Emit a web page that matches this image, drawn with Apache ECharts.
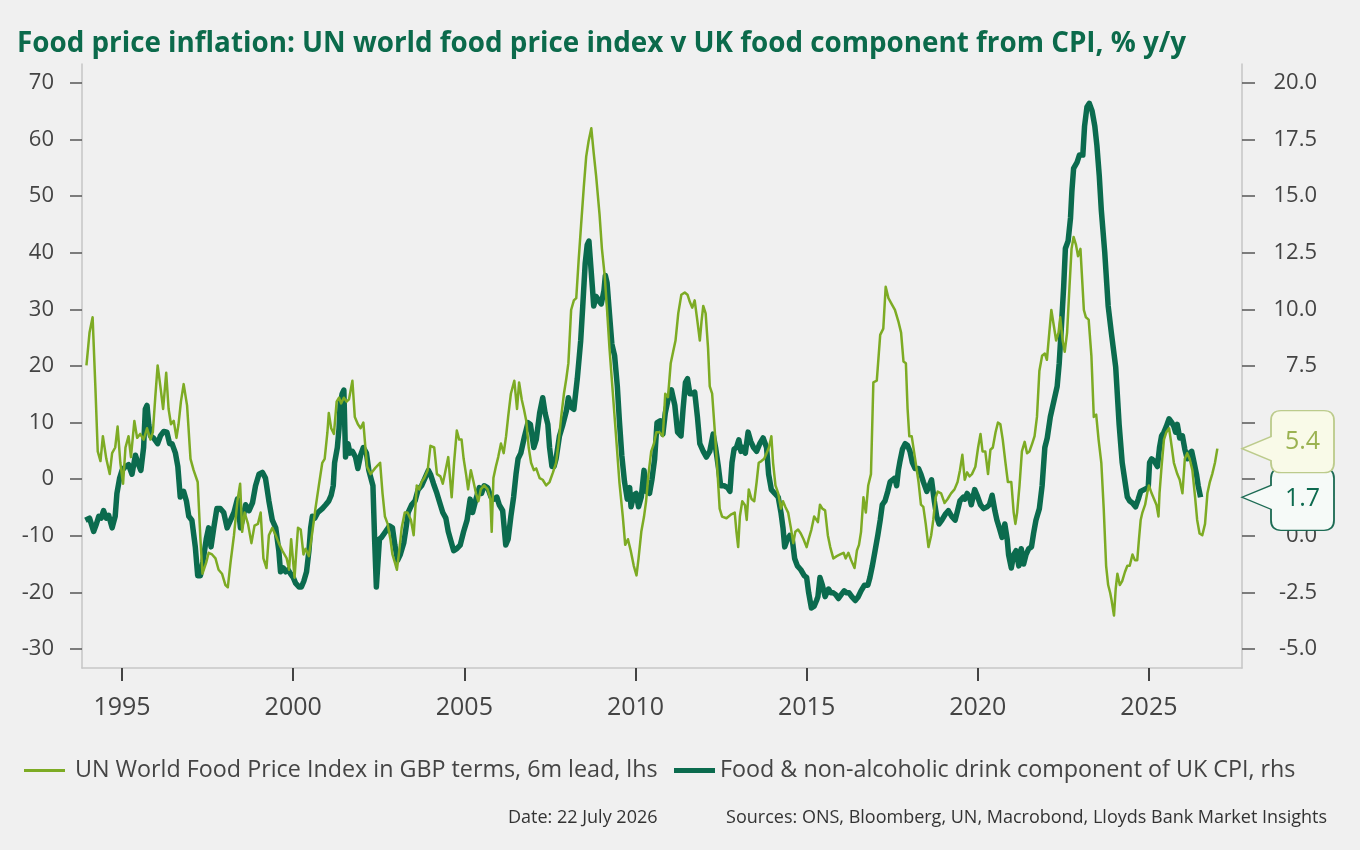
<!DOCTYPE html>
<html>
<head>
<meta charset="utf-8">
<script src="https://cdn.jsdelivr.net/npm/echarts@6/dist/echarts.min.js"></script>
<style>
html,body{margin:0;padding:0;background:#f0f0f0;}
#chart{width:1360px;height:850px;}
</style>
</head>
<body>
<div id="chart"></div>
<script>
// ---- Data ----
const titleText = 'Food price inflation: UN world food price index v UK food component from CPI, % y/y';
const unName = 'UN World Food Price Index in GBP terms, 6m lead, lhs';
const ukName = 'Food & non-alcoholic drink component of UK CPI, rhs';
const dateText = 'Date: 22 July 2026';
const sourceText = 'Sources: ONS, Bloomberg, UN, Macrobond, Lloyds Bank Market Insights';

const xTickYears = [1995, 2000, 2005, 2010, 2015, 2020, 2025];
const leftTicks = [-30, -20, -10, 0, 10, 20, 30, 40, 50, 60, 70];
const rightTicks = [-5, -2.5, 0, 2.5, 5, 7.5, 10, 12.5, 15, 17.5, 20];

// UN World Food Price Index (GBP, 6m lead), lhs: [year, % y/y]
const unFood = [
[1993.96,20.1],[1994.05,25.9],[1994.14,28.6],[1994.22,16.4],[1994.29,4.9],[1994.37,3.2],[1994.44,7.6],[1994.54,3.6],[1994.64,0.9],[1994.71,4.6],[1994.80,5.6],[1994.87,9.3],[1994.95,2.9],
[1995.03,-0.8],[1995.10,5.6],[1995.19,7.6],[1995.26,3.9],[1995.36,10.3],[1995.44,7.3],[1995.53,8.0],[1995.63,7.0],[1995.73,9.0],[1995.83,7.0],[1995.90,8.3],[1995.97,14.4],
[1996.04,20.1],[1996.12,16.4],[1996.20,12.4],[1996.29,18.8],[1996.36,12.4],[1996.43,9.7],[1996.51,10.3],[1996.59,7.3],[1996.65,9.7],[1996.72,13.7],[1996.80,16.8],[1996.90,13.0],
[1997.00,3.6],[1997.09,1.6],[1997.21,-0.5],[1997.29,-10.6],[1997.35,-16.7],[1997.40,-17.0],[1997.46,-14.7],[1997.53,-13.0],[1997.63,-13.3],[1997.73,-14.0],[1997.82,-16.0],[1997.92,-16.7],
[1998.02,-18.7],[1998.09,-19.1],[1998.17,-14.7],[1998.27,-9.9],[1998.37,-3.9],[1998.45,-0.8],[1998.51,-9.3],[1998.58,-5.9],[1998.68,-7.9],[1998.78,-11.3],[1998.87,-8.2],[1998.97,-7.9],
[1999.05,-5.9],[1999.13,-14.0],[1999.22,-15.7],[1999.29,-9.9],[1999.39,-8.6],[1999.49,-9.9],[1999.58,-11.3],[1999.68,-12.6],[1999.81,-14.0],[1999.88,-16.0],[1999.94,-10.6],[1999.99,-14.0],
[2000.04,-17.4],[2000.10,-12.0],[2000.14,-8.6],[2000.22,-8.9],[2000.30,-13.3],[2000.36,-12.3],[2000.46,-13.6],[2000.56,-9.3],[2000.65,-5.2],[2000.75,-1.1],[2000.85,2.9],[2000.92,3.6],
[2001.00,8.3],[2001.04,11.7],[2001.11,9.0],[2001.19,8.0],[2001.27,13.7],[2001.34,14.4],[2001.40,13.4],[2001.48,14.4],[2001.56,13.7],[2001.63,14.1],[2001.73,17.4],[2001.80,11.0],[2001.89,9.7],[2001.97,9.0],
[2002.05,10.0],[2002.11,5.6],[2002.16,2.2],[2002.26,0.9],[2002.40,2.0],[2002.54,2.9],[2002.61,-2.5],[2002.68,-6.6],[2002.76,-7.9],[2002.84,-10.6],[2002.90,-13.3],[2002.97,-14.7],
[2003.03,-16.0],[2003.10,-12.6],[2003.17,-8.6],[2003.26,-5.9],[2003.34,-5.9],[2003.44,-7.2],[2003.52,-9.9],[2003.56,-9.9],[2003.61,-1.1],[2003.68,-1.8],[2003.75,-0.5],[2003.83,0.2],[2003.93,1.6],
[2004.01,5.9],[2004.04,5.9],[2004.12,5.6],[2004.20,0.9],[2004.30,0.5],[2004.37,-0.8],[2004.43,0.9],[2004.53,3.9],[2004.63,-3.2],[2004.70,2.9],[2004.78,8.6],[2004.85,7.0],[2004.92,7.0],[2004.98,3.6],
[2005.05,0.9],[2005.11,-1.8],[2005.19,1.6],[2005.27,-0.5],[2005.34,-2.5],[2005.41,-3.9],[2005.48,-1.8],[2005.58,-1.1],[2005.68,-1.8],[2005.76,-3.5],[2005.80,-9.3],[2005.85,0.2],[2005.92,2.2],[2005.99,3.9],
[2006.07,6.3],[2006.15,4.6],[2006.22,7.6],[2006.28,11.0],[2006.36,15.1],[2006.46,17.4],[2006.54,12.4],[2006.60,17.1],[2006.68,14.0],[2006.74,12.4],[2006.81,10.3],[2006.88,5.6],[2006.95,2.9],
[2007.03,1.6],[2007.10,1.9],[2007.20,0.2],[2007.29,-0.1],[2007.39,-1.1],[2007.49,-0.5],[2007.59,1.2],[2007.68,2.9],[2007.75,6.3],[2007.83,11.0],[2007.91,15.1],[2007.98,17.8],
[2008.04,20.5],[2008.12,29.9],[2008.20,31.6],[2008.27,32.0],[2008.34,38.7],[2008.41,44.8],[2008.49,51.6],[2008.56,57.0],[2008.63,59.7],[2008.71,62.0],[2008.78,57.6],[2008.85,53.6],[2008.95,46.8],
[2009.02,40.7],[2009.10,36.0],[2009.17,29.9],[2009.24,23.2],[2009.34,15.1],[2009.44,7.0],[2009.53,-0.5],[2009.63,-6.6],[2009.70,-11.6],[2009.78,-10.6],[2009.86,-12.6],[2009.95,-15.3],
[2010.03,-17.0],[2010.09,-14.0],[2010.17,-9.3],[2010.25,-6.6],[2010.31,-3.9],[2010.38,0.9],[2010.46,4.9],[2010.54,6.3],[2010.61,8.3],[2010.70,8.3],[2010.80,7.6],[2010.87,15.1],[2010.95,14.5],
[2011.03,20.5],[2011.10,22.5],[2011.17,24.5],[2011.25,29.3],[2011.34,32.6],[2011.44,33.0],[2011.52,32.6],[2011.59,31.3],[2011.66,30.3],[2011.73,31.6],[2011.81,27.9],[2011.88,24.5],[2011.93,27.9],[2011.98,30.6],
[2012.05,29.3],[2012.12,23.2],[2012.17,16.4],[2012.24,15.1],[2012.32,8.3],[2012.40,0.9],[2012.46,-5.2],[2012.53,-6.6],[2012.66,-6.9],[2012.80,-6.2],[2012.90,-5.9],[2012.95,-9.3],
[2013.00,-12.0],[2013.05,-6.6],[2013.12,-3.9],[2013.20,-4.6],[2013.25,-7.2],[2013.31,-1.8],[2013.39,-3.5],[2013.47,-3.9],[2013.54,-0.5],[2013.60,2.9],[2013.68,3.2],[2013.76,3.6],[2013.83,4.6],[2013.90,5.6],[2013.97,7.6],
[2014.02,2.9],[2014.09,-1.1],[2014.17,-2.5],[2014.25,-5.2],[2014.31,-3.9],[2014.38,-4.9],[2014.46,-5.9],[2014.54,-8.6],[2014.61,-11.3],[2014.67,-9.3],[2014.75,-8.9],[2014.83,-9.6],[2014.91,-10.6],
[2015.00,-12.0],[2015.06,-10.6],[2015.14,-8.9],[2015.22,-6.6],[2015.29,-7.2],[2015.33,-7.6],[2015.39,-4.5],[2015.46,-5.2],[2015.54,-5.5],[2015.62,-9.9],[2015.69,-12.0],[2015.78,-14.0],[2015.88,-13.6],[2015.98,-13.3],
[2016.08,-13.0],[2016.14,-14.0],[2016.22,-13.0],[2016.30,-14.3],[2016.40,-15.7],[2016.47,-12.6],[2016.53,-11.6],[2016.59,-9.3],[2016.66,-3.2],[2016.73,-5.9],[2016.80,-1.1],[2016.88,0.9],[2016.95,17.1],
[2017.05,17.4],[2017.15,25.5],[2017.24,26.6],[2017.31,34.0],[2017.39,32.0],[2017.49,30.9],[2017.58,29.9],[2017.68,27.9],[2017.76,25.9],[2017.83,20.8],[2017.90,20.5],[2017.95,12.4],
[2018.00,7.6],[2018.07,7.6],[2018.17,3.6],[2018.27,-0.5],[2018.34,-4.5],[2018.41,-4.9],[2018.48,-7.9],[2018.56,-12.0],[2018.64,-9.9],[2018.70,-7.2],[2018.77,-3.2],[2018.83,-2.2],[2018.93,-2.5],
[2019.03,-4.2],[2019.12,-3.5],[2019.22,-2.5],[2019.32,-1.8],[2019.41,-0.5],[2019.48,1.6],[2019.55,4.3],[2019.62,-0.1],[2019.69,1.2],[2019.76,0.5],[2019.83,0.9],[2019.93,2.2],
[2020.01,5.6],[2020.08,8.0],[2020.14,4.9],[2020.22,4.9],[2020.30,0.9],[2020.37,5.2],[2020.44,5.6],[2020.52,8.3],[2020.59,10.0],[2020.66,9.7],[2020.73,7.0],[2020.81,2.9],[2020.88,-0.5],[2020.98,-0.5],
[2021.05,-5.9],[2021.10,-7.9],[2021.15,-5.9],[2021.22,-1.1],[2021.29,4.9],[2021.37,6.6],[2021.44,4.6],[2021.51,4.9],[2021.59,6.3],[2021.66,7.6],[2021.73,11.0],[2021.80,19.1],[2021.88,21.8],[2021.96,22.2],
[2022.02,21.1],[2022.09,25.9],[2022.15,29.9],[2022.22,27.2],[2022.29,24.5],[2022.36,25.9],[2022.41,28.6],[2022.48,24.5],[2022.54,22.5],[2022.61,25.9],[2022.68,34.0],[2022.74,40.7],[2022.80,42.8],[2022.87,41.4],[2022.93,39.4],
[2023.00,40.7],[2023.05,35.3],[2023.10,29.9],[2023.16,28.6],[2023.24,28.2],[2023.32,21.8],[2023.39,11.0],[2023.46,11.4],[2023.53,7.0],[2023.61,2.9],[2023.68,-5.2],[2023.75,-15.3],[2023.81,-18.7],[2023.87,-20.1],[2023.91,-21.4],[2023.98,-24.1],
[2024.03,-19.4],[2024.08,-16.7],[2024.15,-18.7],[2024.22,-18.0],[2024.30,-16.4],[2024.37,-15.3],[2024.44,-15.3],[2024.52,-13.3],[2024.59,-14.3],[2024.66,-14.3],[2024.71,-10.6],[2024.76,-7.2],[2024.81,-5.9],[2024.89,-4.5],[2024.95,-2.5],
[2025.00,-1.1],[2025.08,-2.5],[2025.15,-3.5],[2025.22,-4.5],[2025.28,-6.6],[2025.31,-2.5],[2025.37,2.2],[2025.44,7.0],[2025.51,8.3],[2025.59,9.0],[2025.67,5.6],[2025.73,2.9],[2025.83,0.9],[2025.90,-0.1],[2025.98,-2.5],
[2026.05,3.6],[2026.12,4.6],[2026.19,3.6],[2026.27,1.6],[2026.35,-3.2],[2026.41,-7.2],[2026.48,-9.6],[2026.56,-9.9],[2026.64,-7.9],[2026.71,-2.5],[2026.78,-0.5],[2026.85,0.9],[2026.93,2.9],[2027.00,5.4]
];

// UK CPI food & non-alcoholic drink, rhs: [year, % y/y]
const ukFood = [
[1993.93,0.69],[1994.05,0.78],[1994.17,0.19],[1994.25,0.52],[1994.32,0.86],[1994.39,0.78],[1994.46,1.11],[1994.54,0.78],[1994.61,0.90],[1994.71,0.35],[1994.80,0.86],[1994.85,1.87],[1994.93,2.55],
[1995.00,2.89],[1995.10,3.06],[1995.19,3.14],[1995.29,2.72],[1995.39,3.56],[1995.46,3.23],[1995.55,2.89],[1995.63,3.90],[1995.68,5.59],[1995.73,5.76],[1995.78,4.92],[1995.83,4.41],[1995.92,4.32],
[1996.04,4.07],[1996.12,4.41],[1996.22,4.61],[1996.31,4.58],[1996.39,4.07],[1996.46,4.07],[1996.56,3.65],[1996.63,3.06],[1996.70,1.71],[1996.80,1.96],[1996.88,1.54],[1996.95,0.86],
[1997.04,0.69],[1997.14,-0.49],[1997.21,-1.76],[1997.29,-1.76],[1997.36,-1.17],[1997.46,-0.15],[1997.53,0.35],[1997.60,-0.49],[1997.68,0.35],[1997.77,1.20],[1997.87,1.20],[1997.97,1.03],
[1998.07,0.35],[1998.17,0.69],[1998.27,1.03],[1998.37,1.62],[1998.46,0.35],[1998.54,0.86],[1998.61,1.37],[1998.71,1.11],[1998.81,1.45],[1998.90,2.21],
[1999.00,2.72],[1999.10,2.80],[1999.19,2.55],[1999.29,1.54],[1999.39,0.69],[1999.49,0.35],[1999.58,-0.66],[1999.63,-1.59],[1999.71,-1.42],[1999.78,-1.59],[1999.85,-1.50],[1999.92,-1.67],
[2000.00,-1.84],[2000.07,-2.09],[2000.17,-2.26],[2000.24,-2.26],[2000.31,-2.01],[2000.39,-1.59],[2000.46,-0.66],[2000.51,0.35],[2000.56,0.86],[2000.63,0.78],[2000.72,1.03],[2000.85,1.20],[2000.95,1.37],
[2001.04,1.54],[2001.11,1.79],[2001.17,2.21],[2001.21,3.23],[2001.29,3.90],[2001.34,4.75],[2001.37,5.76],[2001.43,6.27],[2001.48,6.44],[2001.53,3.48],[2001.60,4.07],[2001.66,3.65],[2001.73,3.73],[2001.82,3.48],[2001.89,2.97],[2001.97,3.56],
[2002.05,3.90],[2002.14,3.65],[2002.21,2.89],[2002.33,2.21],[2002.38,-0.20],[2002.43,-2.26],[2002.52,-0.15],[2002.58,-0.07],[2002.66,0.10],[2002.74,0.27],[2002.81,0.44],[2002.90,0.35],[2002.97,-0.41],
[2003.05,-1.08],[2003.13,-0.83],[2003.23,-0.32],[2003.29,0.27],[2003.36,1.03],[2003.46,1.37],[2003.56,1.54],[2003.65,2.04],[2003.75,2.21],[2003.85,2.55],[2003.95,2.89],
[2004.01,2.72],[2004.10,2.30],[2004.20,1.87],[2004.30,1.37],[2004.37,1.03],[2004.46,0.78],[2004.53,0.19],[2004.61,-0.24],[2004.69,-0.66],[2004.78,-0.57],[2004.88,-0.41],[2004.98,0.19],
[2005.08,0.69],[2005.17,1.62],[2005.24,1.03],[2005.34,1.62],[2005.44,2.13],[2005.50,1.87],[2005.58,2.21],[2005.68,2.13],[2005.78,1.71],[2005.87,1.62],[2005.95,1.71],
[2006.02,1.37],[2006.12,1.11],[2006.21,-0.41],[2006.28,-0.15],[2006.36,0.86],[2006.44,1.71],[2006.51,2.72],[2006.57,3.40],[2006.65,3.65],[2006.76,4.40],[2006.86,5.00],[2006.93,4.92],
[2007.03,3.90],[2007.10,4.24],[2007.20,5.42],[2007.29,6.10],[2007.36,5.42],[2007.44,4.92],[2007.49,3.90],[2007.56,3.06],[2007.62,3.06],[2007.68,3.40],[2007.78,4.41],[2007.88,4.92],[2007.98,5.51],
[2008.04,6.10],[2008.12,5.68],[2008.20,5.59],[2008.30,6.94],[2008.40,8.63],[2008.46,10.15],[2008.53,12.01],[2008.59,12.85],[2008.64,13.02],[2008.69,12.01],[2008.74,11.00],[2008.78,10.15],[2008.85,10.57],[2008.92,10.41],
[2009.00,10.24],[2009.08,10.83],[2009.12,11.50],[2009.17,11.17],[2009.24,9.81],[2009.31,8.47],[2009.39,7.96],[2009.47,6.60],[2009.53,5.08],[2009.60,3.56],[2009.68,2.38],[2009.76,1.62],[2009.83,2.13],[2009.87,1.28],[2009.95,1.79],
[2010.02,1.87],[2010.09,1.28],[2010.17,1.71],[2010.25,2.89],[2010.31,1.96],[2010.41,1.87],[2010.48,2.47],[2010.56,3.40],[2010.63,5.00],[2010.73,5.08],[2010.80,4.49],[2010.87,5.42],[2010.95,6.01],
[2011.05,6.45],[2011.15,5.76],[2011.23,4.58],[2011.33,4.41],[2011.39,5.59],[2011.46,6.77],[2011.52,6.94],[2011.59,6.27],[2011.66,6.27],[2011.73,6.35],[2011.81,5.25],[2011.88,4.07],[2011.98,3.73],
[2012.07,3.48],[2012.17,3.73],[2012.27,4.49],[2012.34,3.90],[2012.42,3.06],[2012.49,2.21],[2012.59,2.21],[2012.69,2.13],[2012.76,1.96],[2012.82,3.23],[2012.88,3.82],[2012.95,3.90],
[2013.02,4.24],[2013.08,3.73],[2013.14,3.90],[2013.21,3.65],[2013.29,4.58],[2013.37,4.16],[2013.45,3.90],[2013.54,3.73],[2013.63,4.07],[2013.73,4.32],[2013.83,3.90],[2013.89,2.72],[2013.97,2.04],
[2014.07,1.87],[2014.17,1.71],[2014.25,1.03],[2014.31,0.35],[2014.36,-0.49],[2014.44,-0.15],[2014.51,0.02],[2014.58,-0.15],[2014.65,-1.00],[2014.73,-1.33],[2014.83,-1.50],[2014.93,-1.76],
[2015.00,-1.84],[2015.06,-2.52],[2015.14,-3.19],[2015.22,-3.11],[2015.29,-2.86],[2015.33,-2.69],[2015.39,-1.84],[2015.46,-2.18],[2015.54,-2.69],[2015.64,-2.35],[2015.71,-2.52],[2015.78,-2.52],[2015.85,-2.60],[2015.93,-2.77],
[2016.01,-2.60],[2016.10,-2.43],[2016.17,-2.52],[2016.24,-2.52],[2016.32,-2.69],[2016.42,-2.86],[2016.51,-2.69],[2016.59,-2.43],[2016.69,-2.18],[2016.79,-2.18],[2016.85,-1.84],[2016.92,-1.33],
[2017.00,-0.66],[2017.08,0.02],[2017.15,0.69],[2017.21,1.37],[2017.29,1.54],[2017.37,1.96],[2017.44,2.38],[2017.51,2.47],[2017.58,2.55],[2017.63,2.21],[2017.68,2.89],[2017.73,3.31],[2017.80,3.82],[2017.88,4.07],[2017.95,3.99],
[2018.02,3.73],[2018.09,3.23],[2018.17,2.97],[2018.27,2.97],[2018.34,2.72],[2018.41,2.38],[2018.51,1.96],[2018.58,2.21],[2018.65,2.47],[2018.73,1.54],[2018.80,0.86],[2018.87,0.52],[2018.95,0.69],
[2019.05,0.95],[2019.14,1.11],[2019.24,0.86],[2019.34,0.69],[2019.41,1.11],[2019.48,1.54],[2019.58,1.71],[2019.62,1.62],[2019.69,1.87],[2019.76,1.71],[2019.81,1.37],[2019.91,2.04],[2019.98,1.79],
[2020.08,1.37],[2020.17,1.20],[2020.27,1.28],[2020.34,1.37],[2020.42,1.79],[2020.50,1.11],[2020.56,0.69],[2020.63,0.35],[2020.71,-0.07],[2020.79,0.52],[2020.86,-0.15],[2020.90,-0.83],[2020.98,-1.42],
[2021.05,-0.83],[2021.12,-0.66],[2021.20,-1.33],[2021.27,-0.57],[2021.34,-1.25],[2021.41,-0.83],[2021.49,-0.57],[2021.57,-0.49],[2021.63,0.10],[2021.70,0.69],[2021.80,1.20],[2021.88,2.21],[2021.96,3.90],
[2022.03,4.32],[2022.12,5.25],[2022.22,5.93],[2022.32,6.60],[2022.38,7.62],[2022.44,9.14],[2022.51,11.00],[2022.56,12.69],[2022.64,13.02],[2022.71,14.04],[2022.75,15.22],[2022.80,16.23],[2022.90,16.49],[2022.97,16.82],
[2023.07,16.82],[2023.12,18.09],[2023.19,18.94],[2023.26,19.10],[2023.34,18.77],[2023.42,18.09],[2023.48,17.25],[2023.55,15.90],[2023.61,14.38],[2023.71,12.52],[2023.81,10.15],[2023.90,9.00],
[2024.03,7.45],[2024.13,4.92],[2024.22,3.23],[2024.32,2.21],[2024.37,1.71],[2024.44,1.54],[2024.52,1.45],[2024.61,1.28],[2024.69,1.62],[2024.76,1.96],[2024.86,2.04],[2024.98,2.13],
[2025.02,3.23],[2025.08,3.40],[2025.15,3.31],[2025.25,3.06],[2025.31,3.90],[2025.37,4.41],[2025.44,4.58],[2025.51,4.83],[2025.59,5.17],[2025.67,5.00],[2025.73,4.83],[2025.78,4.58],[2025.83,4.92],[2025.90,4.32],[2025.98,4.41],
[2026.05,3.82],[2026.12,3.40],[2026.19,3.65],[2026.25,3.73],[2026.32,3.23],[2026.39,2.72],[2026.44,2.21],[2026.51,1.70]
];

const unLatest = 5.4;
const ukLatest = 1.7;

// ---- Axis ranges (rhs = lhs/4 + 2.5) ----
const xMin = 1993.83, xMax = 2027.72;
const lMin = -33.36, lMax = 73.36;
const rMin = lMin / 4 + 2.5, rMax = lMax / 4 + 2.5;

const C_LIGHT = '#7dab24';
const C_DARK = '#0b6b4e';
const FONT = '"Open Sans", "Noto Sans", sans-serif';

function calloutPath(tipY) {
  // bbox 0..92 x 0..62; tip at (0, tipY); box from x=29
  const a = Math.max(tipY - 12, 10), b = Math.min(tipY + 12, 52);
  return 'path://M0 ' + tipY + ' L29 ' + a + ' L29 10 Q29 0 39 0 L82 0 Q92 0 92 10 L92 52 Q92 62 82 62 L39 62 Q29 62 29 52 L29 ' + b + ' Z';
}

const chart = echarts.init(document.getElementById('chart'), null, { renderer: 'canvas' });
chart.setOption({
  backgroundColor: '#f0f0f0',
  animation: false,
  textStyle: { fontFamily: FONT },
  title: {
    text: titleText, left: 12, top: 25,
    textStyle: { fontFamily: FONT, fontWeight: 'bold', fontSize: 27.8, color: '#0b6a4b' }
  },
  grid: { left: 82, right: 118, top: 64, bottom: 182 },
  legend: [
    { data: [{ name: unName, icon: 'rect' }], left: 19, top: 754, itemWidth: 41, itemHeight: 3,
      textStyle: { fontSize: 23.3, color: '#444', fontFamily: FONT, padding: [0, 0, 0, 5] } },
    { data: [{ name: ukName, icon: 'rect' }], left: 669, top: 754, itemWidth: 41, itemHeight: 5,
      textStyle: { fontSize: 23.3, color: '#444', fontFamily: FONT } }
  ],
  xAxis: {
    type: 'value', min: xMin, max: xMax,
    axisLine: { show: true, onZero: false, lineStyle: { color: '#c6c6c6', width: 1.5 } },
    axisTick: { show: true, customValues: xTickYears, length: 13, lineStyle: { color: '#444', width: 2 } },
    axisLabel: { customValues: xTickYears, fontSize: 25, color: '#444', margin: 27, formatter: v => String(v) },
    splitLine: { show: false }
  },
  yAxis: [
    { type: 'value', position: 'left', min: lMin, max: lMax,
      axisLine: { show: true, onZero: false, lineStyle: { color: '#c6c6c6', width: 1.5 } },
      axisTick: { show: true, customValues: leftTicks, length: 12, lineStyle: { color: '#555', width: 1.5 } },
      axisLabel: { customValues: leftTicks, fontSize: 22, color: '#444', margin: 28, formatter: v => String(v) },
      splitLine: { show: false } },
    { type: 'value', position: 'right', min: rMin, max: rMax,
      axisLine: { show: true, onZero: false, lineStyle: { color: '#c6c6c6', width: 1.5 } },
      axisTick: { show: true, customValues: rightTicks, length: 13, lineStyle: { color: '#555', width: 1.5 } },
      axisLabel: { customValues: rightTicks, fontSize: 22, color: '#444', margin: 75, align: 'right', formatter: v => v.toFixed(1) },
      splitLine: { show: false } }
  ],
  series: [
    { name: ukName, type: 'line', yAxisIndex: 1, data: ukFood, showSymbol: false, symbol: 'none', clip: false,
      lineStyle: { color: C_DARK, width: 5.5, join: 'round' }, itemStyle: { color: C_DARK }, z: 2,
      markPoint: { silent: true, data: [{ coord: [xMax, ukLatest], symbol: calloutPath(29), symbolSize: [92, 62], symbolOffset: [46, 2],
        itemStyle: { color: '#f6faf8', borderColor: '#1d6b54', borderWidth: 1.5 },
        label: { show: true, position: 'inside', offset: [14.5, 0], formatter: String(ukLatest), fontSize: 25, color: '#0d6a4f', fontFamily: FONT } }] } },
    { name: unName, type: 'line', yAxisIndex: 0, data: unFood, showSymbol: false, symbol: 'none', clip: false,
      lineStyle: { color: C_LIGHT, width: 2.5, join: 'round' }, itemStyle: { color: C_LIGHT }, z: 3,
      markPoint: { silent: true, data: [{ coord: [xMax, unLatest], symbol: calloutPath(38), symbolSize: [92, 62], symbolOffset: [46, -7],
        itemStyle: { color: '#f9fae8', borderColor: '#bccb8c', borderWidth: 1.5 },
        label: { show: true, position: 'inside', offset: [14.5, 0], formatter: String(unLatest), fontSize: 25, color: '#9bb251', fontFamily: FONT } }] } }
  ],
  graphic: [
    { type: 'text', left: 508, top: 809, style: { text: dateText, fontSize: 18, fill: '#333', fontFamily: FONT } },
    { type: 'text', right: 33, top: 809, style: { text: sourceText, fontSize: 18, fill: '#333', fontFamily: FONT } }
  ]
});
</script>
</body>
</html>
